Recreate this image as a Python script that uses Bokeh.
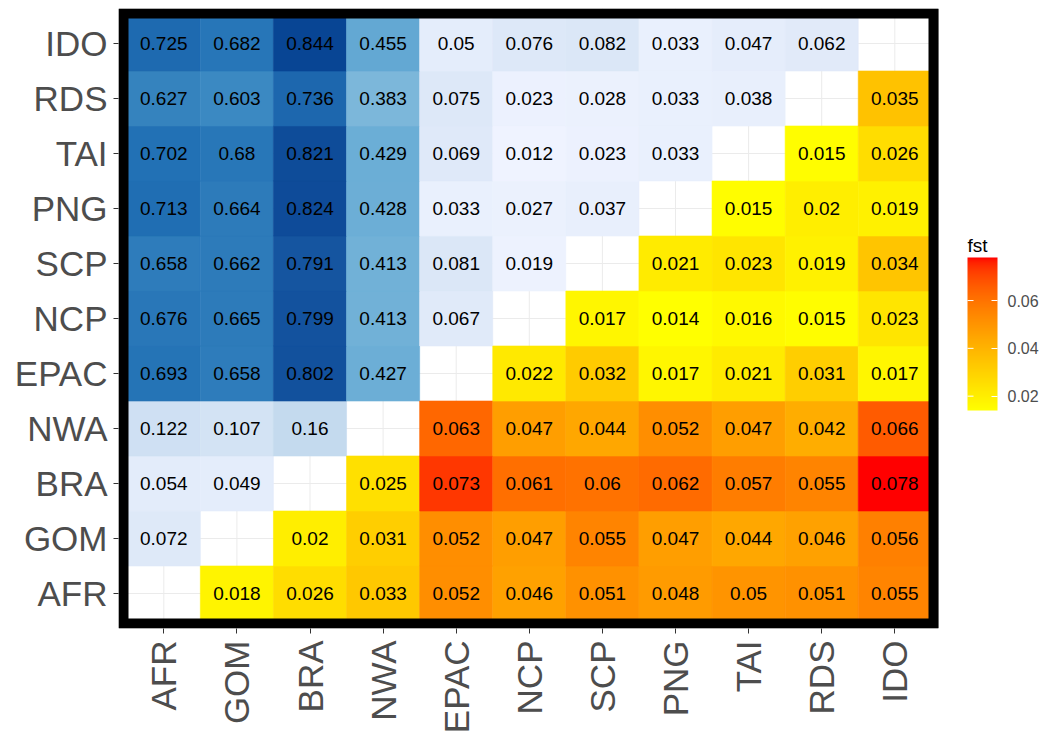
import math

from bokeh.core.properties import value
from bokeh.embed import file_html
from bokeh.models import ColorBar, ColumnDataSource, FixedTicker, Label, LinearColorMapper, Range1d
from bokeh.plotting import figure
from bokeh.resources import INLINE
from bokeh.transform import transform

pops = ["AFR", "GOM", "BRA", "NWA", "EPAC", "NCP", "SCP", "PNG", "TAI", "RDS", "IDO"]

# pairwise values, one row per population, columns in `pops` order (None on the diagonal)
AFR = [None, 0.018, 0.026, 0.033, 0.052, 0.046, 0.051, 0.048, 0.05, 0.051, 0.055]
GOM = [0.072, None, 0.02, 0.031, 0.052, 0.047, 0.055, 0.047, 0.044, 0.046, 0.056]
BRA = [0.054, 0.049, None, 0.025, 0.073, 0.061, 0.06, 0.062, 0.057, 0.055, 0.078]
NWA = [0.122, 0.107, 0.16, None, 0.063, 0.047, 0.044, 0.052, 0.047, 0.042, 0.066]
EPAC = [0.693, 0.658, 0.802, 0.427, None, 0.022, 0.032, 0.017, 0.021, 0.031, 0.017]
NCP = [0.676, 0.665, 0.799, 0.413, 0.067, None, 0.017, 0.014, 0.016, 0.015, 0.023]
SCP = [0.658, 0.662, 0.791, 0.413, 0.081, 0.019, None, 0.021, 0.023, 0.019, 0.034]
PNG = [0.713, 0.664, 0.824, 0.428, 0.033, 0.027, 0.037, None, 0.015, 0.02, 0.019]
TAI = [0.702, 0.68, 0.821, 0.429, 0.069, 0.012, 0.023, 0.033, None, 0.015, 0.026]
RDS = [0.627, 0.603, 0.736, 0.383, 0.075, 0.023, 0.028, 0.033, 0.038, None, 0.035]
IDO = [0.725, 0.682, 0.844, 0.455, 0.05, 0.076, 0.082, 0.033, 0.047, 0.062, None]

rows = [AFR, GOM, BRA, NWA, EPAC, NCP, SCP, PNG, TAI, RDS, IDO]

legend_ticks = [0.02, 0.04, 0.06]
fst_colors = ["#FFFF00", "#FF0000"]
blues7 = ["#EFF3FF", "#C6DBEF", "#9ECAE1", "#6BAED6", "#4292C6", "#2171B5", "#084594"]


# --- colour ramps interpolated in CIELAB -------------------------------------
def hex_to_lab(h):
    rgb = [int(h[i:i + 2], 16) / 255 for i in (1, 3, 5)]
    r, g, b = [c / 12.92 if c <= 0.04045 else ((c + 0.055) / 1.055) ** 2.4 for c in rgb]
    X = 0.4124564 * r + 0.3575761 * g + 0.1804375 * b
    Y = 0.2126729 * r + 0.7151522 * g + 0.0721750 * b
    Z = 0.0193339 * r + 0.1191920 * g + 0.9503041 * b
    d = 6 / 29

    def f(t):
        return t ** (1 / 3) if t > d ** 3 else t / (3 * d * d) + 4 / 29

    fx, fy, fz = f(X / 0.95047), f(Y / 1.0), f(Z / 1.08883)
    return (116 * fy - 16, 500 * (fx - fy), 200 * (fy - fz))


def lab_to_hex(L, a, b):
    d = 6 / 29
    fy = (L + 16) / 116
    fx = fy + a / 500
    fz = fy - b / 200

    def finv(t):
        return t ** 3 if t > d else 3 * d * d * (t - 4 / 29)

    X, Y, Z = 0.95047 * finv(fx), finv(fy), 1.08883 * finv(fz)
    r = 3.2404542 * X - 1.5371385 * Y - 0.4985314 * Z
    g = -0.9692660 * X + 1.8760108 * Y + 0.0415560 * Z
    bb = 0.0556434 * X - 0.2040259 * Y + 1.0572252 * Z
    out = []
    for c in (r, g, bb):
        c = 12.92 * c if c <= 0.0031308 else 1.055 * c ** (1 / 2.4) - 0.055
        out.append(max(0, min(255, round(c * 255))))
    return "#%02X%02X%02X" % tuple(out)


def lab_ramp(colors, n=256):
    labs = [hex_to_lab(c) for c in colors]
    pal = []
    for i in range(n):
        pos = i / (n - 1) * (len(labs) - 1)
        k = min(int(pos), len(labs) - 2)
        t = pos - k
        a, b = labs[k], labs[k + 1]
        pal.append(lab_to_hex(*[a[j] + (b[j] - a[j]) * t for j in range(3)]))
    return pal


# --- split the matrix into the two triangles ---------------------------------
fx_, fy_, fv, fl = [], [], [], []
bx_, by_, bv, bl = [], [], [], []
for ri, row in enumerate(rows):
    for ci, v in enumerate(row):
        if v is None:
            continue
        if ci > ri:
            fx_.append(ci + 1); fy_.append(ri + 1); fv.append(v); fl.append("%g" % v)
        else:
            bx_.append(ci + 1); by_.append(ri + 1); bv.append(v); bl.append("%g" % v)

fst_src = ColumnDataSource(dict(x=fx_, y=fy_, v=fv, label=fl))
blue_src = ColumnDataSource(dict(x=bx_, y=by_, v=bv, label=bl))

fst_low, fst_high = min(fv), max(fv)
fst_mapper = LinearColorMapper(palette=lab_ramp(fst_colors), low=fst_low, high=fst_high)
blue_mapper = LinearColorMapper(palette=lab_ramp(blues7), low=min(bv), high=max(bv))

# --- figure geometry -----------------------------------------------------------
# the frame spans the heatmap panel plus the legend strip on its right
PANEL_W, PANEL_H = 820, 620
LEGEND_W = 117
FRAME_W = PANEL_W + LEGEND_W
CELL_W, CELL_H = 73.1, 55.0
x_start = 1 - 45.3 / CELL_W
y_start = 1 - 35.0 / CELL_H
xr = Range1d(x_start, x_start + FRAME_W / CELL_W)
yr = Range1d(y_start, y_start + PANEL_H / CELL_H)
sx, sy = CELL_W, CELL_H  # pixels per data unit


def px_x(px):
    return x_start + px / sx


def px_y(px):
    return y_start + px / sy


FONT = "Liberation Sans"
n = len(pops)

p = figure(
    x_range=xr, y_range=yr,
    frame_width=FRAME_W, frame_height=PANEL_H,
    min_border_left=118, min_border_top=8, min_border_bottom=106, min_border_right=0,
    output_backend="svg", toolbar_location=None,
    background_fill_color="white", border_fill_color="white",
)
p.outline_line_color = None
p.xgrid.visible = False
p.ygrid.visible = False

ticks = list(range(1, n + 1))
overrides = {t: name for t, name in zip(ticks, pops)}
for ax in (p.xaxis[0], p.yaxis[0]):
    ax.ticker = FixedTicker(ticks=ticks)
    ax.major_label_overrides = overrides
    ax.axis_line_color = None
    ax.major_tick_line_color = "#333333"
    ax.major_tick_out = 5
    ax.major_tick_in = 0
    ax.minor_tick_line_color = None
    ax.major_label_text_font = FONT
    ax.major_label_text_font_size = "35px"
    ax.major_label_text_color = "#4D4D4D"
p.xaxis.major_label_orientation = math.pi / 2
p.xaxis.major_label_standoff = 7
p.yaxis.major_label_standoff = 6

# panel grid lines through the cell centres (only the panel, not the legend strip)
p.segment(x0=ticks, y0=[px_y(0)] * n, x1=ticks, y1=[px_y(PANEL_H)] * n,
          line_color="#EBEBEB", line_width=1)
p.segment(x0=[px_x(0)] * n, y0=ticks, x1=[px_x(PANEL_W)] * n, y1=ticks,
          line_color="#EBEBEB", line_width=1)

# tiles
p.rect("x", "y", width=1, height=1, source=blue_src,
       fill_color=transform("v", blue_mapper), line_color=transform("v", blue_mapper), line_width=0.6)
p.rect("x", "y", width=1, height=1, source=fst_src,
       fill_color=transform("v", fst_mapper), line_color=transform("v", fst_mapper), line_width=0.6)

# value labels
for src in (blue_src, fst_src):
    p.text("x", "y", text="label", source=src, text_align="center", text_baseline="middle",
           text_font=value(FONT), text_font_size="19px", text_color="black")

# thick black panel border with a faint grey edge
BORDER = 10
cx, cy = px_x(PANEL_W / 2), px_y(PANEL_H / 2)
p.rect(x=cx, y=cy, width=(PANEL_W - 1) / sx, height=(PANEL_H - 1) / sy,
       fill_color=None, line_color="#B5B5B5", line_width=1)
p.rect(x=cx, y=cy, width=(PANEL_W - BORDER) / sx, height=(PANEL_H - BORDER) / sy,
       fill_color=None, line_color="black", line_width=BORDER, line_join="miter")

# colour bar for fst
BAR_X, BAR_Y, BAR_W, BAR_H = 849, 218, 30, 153  # offsets from the frame's lower-left corner
cb = ColorBar(
    color_mapper=fst_mapper,
    ticker=FixedTicker(ticks=legend_ticks),
    orientation="vertical",
    width=BAR_W, height=BAR_H,
    major_label_text_font=FONT, major_label_text_font_size="16px",
    major_label_text_color="#4D4D4D",
    major_tick_line_color="white", major_tick_in=6, major_tick_out=0,
    minor_tick_line_color=None,
    label_standoff=10, bar_line_color=None,
    padding=0, margin=0,
    background_fill_color=None, border_line_color=None,
    location=(BAR_X, BAR_Y),
)
p.add_layout(cb, "center")

# white tick marks on the left edge of the bar as well
tick_y = [px_y(BAR_Y + (t - fst_low) / (fst_high - fst_low) * BAR_H) for t in legend_ticks]
p.segment(x0=[px_x(BAR_X)] * len(tick_y), y0=tick_y, x1=[px_x(BAR_X + 6)] * len(tick_y), y1=tick_y,
          line_color="white", line_width=1, level="overlay")

# legend title above the bar
p.add_layout(Label(
    x=px_x(BAR_X), y=px_y(BAR_Y + BAR_H + 12), text="fst",
    text_font=FONT, text_font_size="19px", text_color="black",
    text_align="left", text_baseline="alphabetic",
))

open("out.html", "w").write(file_html(p, INLINE))
